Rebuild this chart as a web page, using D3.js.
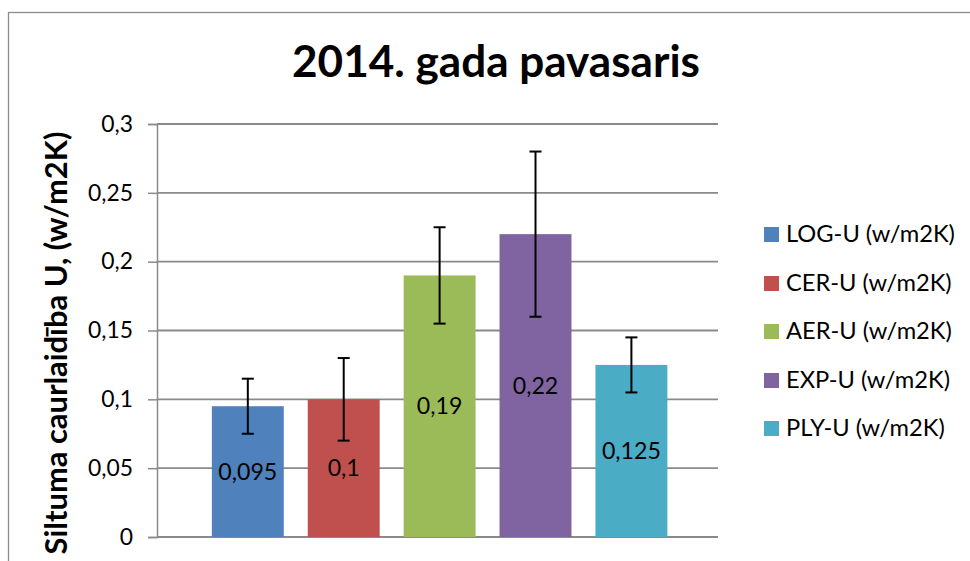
<!DOCTYPE html>
<html><head><meta charset="utf-8">
<script src="https://cdn.jsdelivr.net/npm/d3@7"></script>
<style>
body{margin:0;background:#fff;}
text{font-family:Lato,"Open Sans",sans-serif;fill:#000;}
</style></head>
<body><svg id="c" width="970" height="561"></svg>
<script>
const title = "2014. gada pavasaris";
const yTitle = "Siltuma caurlaidība U, (w/m2K)";
const series = ["LOG-U (w/m2K)","CER-U (w/m2K)","AER-U (w/m2K)","EXP-U (w/m2K)","PLY-U (w/m2K)"];
const values = [0.095, 0.1, 0.19, 0.22, 0.125];
const errLow = [0.075, 0.07, 0.155, 0.16, 0.105];
const errHigh = [0.115, 0.13, 0.225, 0.28, 0.145];
const labels = ["0,095","0,1","0,19","0,22","0,125"];
const yTicks = [0,0.05,0.1,0.15,0.2,0.25,0.3];
const yTickLabels = ["0","0,05","0,1","0,15","0,2","0,25","0,3"];
const colors = ["#4F81BD","#C0504D","#9BBB59","#8064A2","#4BACC6"];

const svg = d3.select("#c");
svg.append("rect").attr("x",8.5).attr("y",12.5).attr("width",980).attr("height",600)
  .attr("fill","none").attr("stroke","#8c8c8c").attr("stroke-width",1.3);

const y = d3.scaleLinear().domain([0,0.3]).range([537,124]);
const x = d3.scaleBand().domain(series).range([157,718]).paddingInner(0.25).paddingOuter(0.55).align(0.52);

function fit(sel, w){
  const cur = sel.node().getComputedTextLength();
  const fs = parseFloat(sel.attr("font-size"));
  const n = fs*w/cur;
  sel.attr("font-size", n);
  return n;
}

svg.append("g").selectAll("line").data(yTicks).join("line")
  .attr("x1",157).attr("x2",718).attr("y1",d=>y(d)).attr("y2",d=>y(d))
  .attr("stroke","#8a8a8a").attr("stroke-width",1.8);

const ax = d3.axisLeft(y).tickValues(yTicks).tickSize(9).tickPadding(15).tickFormat((d,i)=>yTickLabels[i]);
const g = svg.append("g").attr("transform","translate(157,0)").call(ax);
g.select(".domain").attr("stroke","#8a8a8a").attr("stroke-width",1.5);
g.selectAll(".tick line").attr("stroke","#8a8a8a").attr("stroke-width",1.5);
g.selectAll(".tick text").attr("font-size",22).attr("font-family","Lato").attr("fill","#000");
// fit tick font size using "0,25"
const tk = g.selectAll(".tick text").filter((d)=>d===0.25);
const tfs = fit(tk,45);
g.selectAll(".tick text").attr("font-size",tfs);

svg.append("g").selectAll("rect").data(series).join("rect")
  .attr("x",d=>x(d)).attr("width",x.bandwidth())
  .attr("y",(d,i)=>y(values[i])).attr("height",(d,i)=>y(0)-y(values[i]))
  .attr("fill",(d,i)=>colors[i]);

const lab = svg.append("g").selectAll("text").data(series).join("text")
  .attr("x",d=>x(d)+x.bandwidth()/2)
  .attr("y",(d,i)=>(y(values[i])+y(0))/2)
  .attr("dy","0.35em").attr("text-anchor","middle").attr("font-size",22)
  .text((d,i)=>labels[i]);
const lfs0 = fit(lab.filter((d,i)=>i===0),59);
lab.attr("font-size",lfs0);

const eb = svg.append("g").attr("stroke","#000").attr("stroke-width",2);
series.forEach((s,i)=>{
  const cx = x(s)+x.bandwidth()/2;
  eb.append("line").attr("x1",cx).attr("x2",cx).attr("y1",y(errLow[i])).attr("y2",y(errHigh[i]));
  eb.append("line").attr("x1",cx-6).attr("x2",cx+6).attr("y1",y(errLow[i])).attr("y2",y(errLow[i]));
  eb.append("line").attr("x1",cx-6).attr("x2",cx+6).attr("y1",y(errHigh[i])).attr("y2",y(errHigh[i]));
});

const t = svg.append("text").attr("x",496).attr("y",77).attr("text-anchor","middle")
  .attr("font-size",40).attr("font-weight","bold").text(title);
fit(t,408);

const yt = svg.append("text").attr("transform","translate(67,343) rotate(-90)")
  .attr("text-anchor","middle").attr("font-size",20).attr("font-weight","bold").text(yTitle);
fit(yt,423);

const leg = svg.append("g");
const rowY = [234,283,331,380,428];
let lfs = null;
series.forEach((s,i)=>{
  leg.append("rect").attr("x",764).attr("y",rowY[i]-7).attr("width",15).attr("height",15).attr("fill",colors[i]);
  const tx = leg.append("text").attr("x",786).attr("y",rowY[i]).attr("dy","0.35em").attr("font-size",20).text(s);
  if(i===0){ lfs = fit(tx,169); } else tx.attr("font-size",lfs);
});
</script></body></html>
